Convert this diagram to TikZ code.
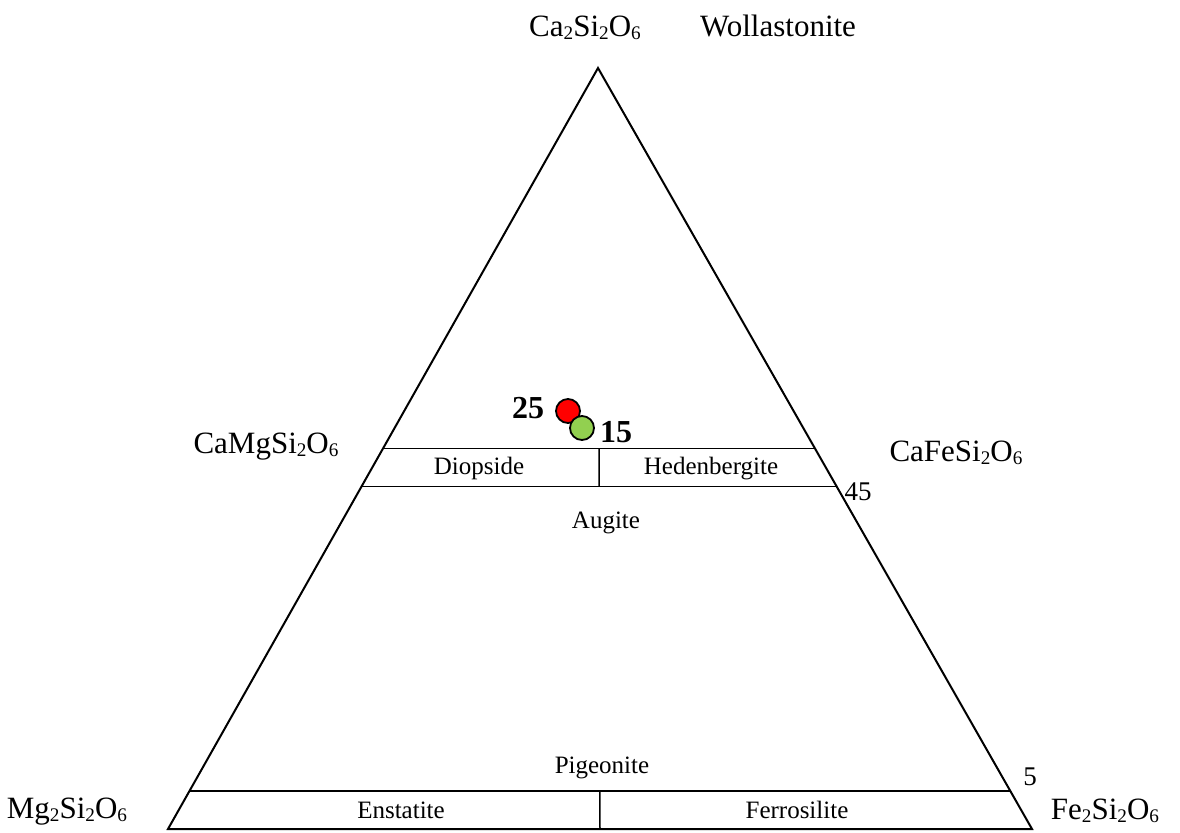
\documentclass[tikz,border=0pt]{standalone}
\usepackage{fontspec}
\setmainfont{Liberation Serif}
\usetikzlibrary{calc}
\newcommand{\low}[1]{\raisebox{-0.25ex}{\scalebox{0.62}{#1}}}

\begin{document}
\begin{tikzpicture}[
x = 0.5pt, y = -0.5pt, % one unit = one pixel
line width = 1pt,
every node/.style = {inner sep = 0pt}
]

\tikzstyle{corner}=[anchor=base, font=\fontsize{15.5}{18}\selectfont]
\tikzstyle{field}=[anchor=base, font=\fontsize{12.5}{15}\selectfont]
\tikzstyle{tick}=[anchor=base, font=\fontsize{13.5}{16}\selectfont]
\tikzstyle{tag}=[anchor=base, font=\fontsize{16}{19}\selectfont\bfseries]
\tikzstyle{sample}=[
circle,
draw = black,
line width = 0.9pt,
minimum size = 12pt
]

\useasboundingbox (0,0) rectangle (1180,832);

% corners of the triangle
\coordinate (Wo) at (598,68);
\coordinate (En) at (168,829);
\coordinate (Fs) at (1032,829);

% field boundaries (50, 45 and 5 % Wo)
\coordinate (l50) at ($(En)!0.50!(Wo)$);
\coordinate (r50) at ($(Fs)!0.50!(Wo)$);
\coordinate (l45) at ($(En)!0.45!(Wo)$);
\coordinate (r45) at ($(Fs)!0.45!(Wo)$);
\coordinate (l5) at ($(En)!0.05!(Wo)$);
\coordinate (r5) at ($(Fs)!0.05!(Wo)$);

\draw (Wo) -- (En) -- (Fs) -- cycle;

\draw[line width=0.75pt] (l50) -- (r50);
\draw[line width=0.75pt] (l45) -- (r45);
\draw[line width=0.75pt] (l5) -- (r5);
\draw[line width=0.75pt] ($(l50)!0.5!(r50)$) -- ($(l45)!0.5!(r45)$);
\draw[line width=0.75pt] ($(l5)!0.5!(r5)$) -- ($(En)!0.5!(Fs)$);

% end members
\node[corner] (wo) at (585,36) {Ca\low{2}Si\low{2}O\low{6}};
\node[corner] (wol) at (778,36) {Wollastonite};
\node[corner] (di) at (266,453) {CaMgSi\low{2}O\low{6}};
\node[corner] (hd) at (956,461) {CaFeSi\low{2}O\low{6}};
\node[corner] (en) at (67,818) {Mg\low{2}Si\low{2}O\low{6}};
\node[corner] (fs) at (1105,819) {Fe\low{2}Si\low{2}O\low{6}};

% fields
\node[field] (diop) at (479,474) {Diopside};
\node[field] (hed) at (711,474) {Hedenbergite};
\node[field] (aug) at (606,528) {Augite};
\node[field] (pig) at (602,773) {Pigeonite};
\node[field] (ens) at (401,818) {Enstatite};
\node[field] (fer) at (797,818) {Ferrosilite};

\node[tick] (t45) at (858,500) {45};
\node[tick] (t5) at (1030,785) {5};

% samples
\node[sample, fill=red] (s25) at (568,411) {};
\node[sample, fill={rgb,255:red,146;green,208;blue,80}] (s15) at (582,428) {};
\node[tag] (n25) at (528,418) {25};
\node[tag] (n15) at (616,442) {15};

\end{tikzpicture}
\end{document}
